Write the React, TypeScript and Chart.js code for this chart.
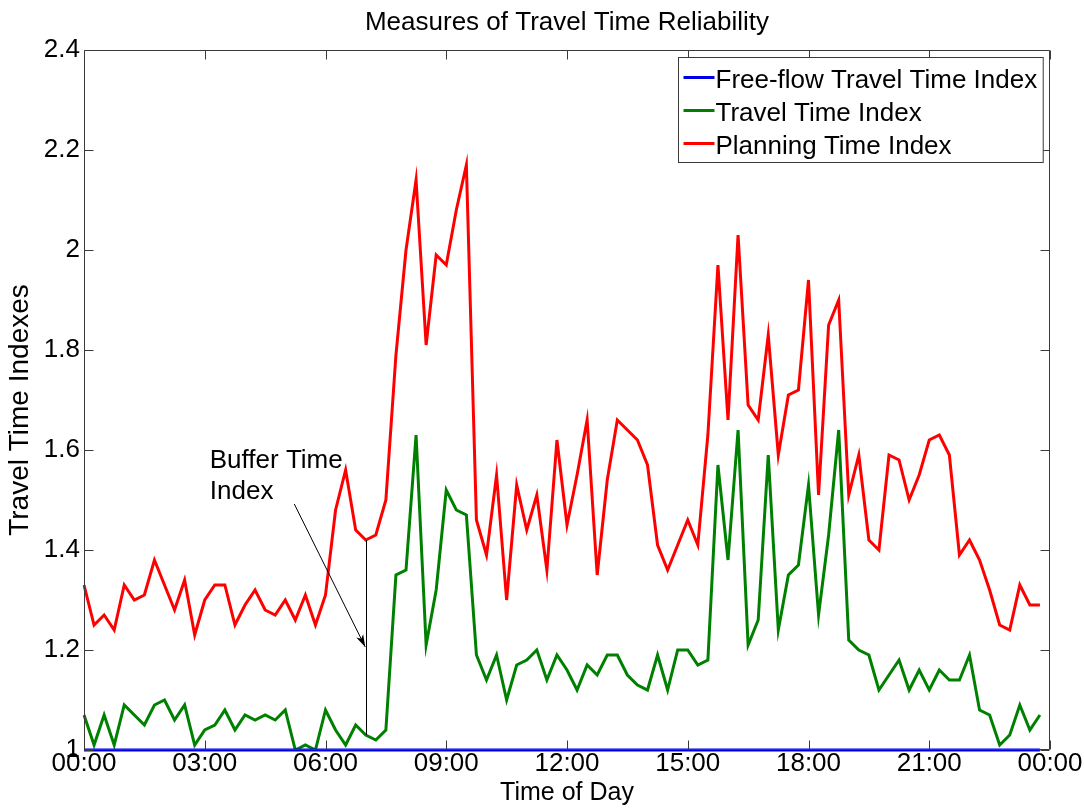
import React, { useEffect, useRef } from "react";
import { Chart, registerables } from "chart.js";

Chart.register(...registerables);

const FONT = "'Liberation Sans', Arial, Helvetica, sans-serif";

// 15-minute time-of-day categories, 00:00 .. 24:00
const timeLabels: string[] = (() => {
  const out: string[] = [];
  for (let m = 0; m <= 24 * 60; m += 15) {
    const h = Math.floor(m / 60);
    const mm = m % 60;
    out.push(`${String(h).padStart(2, "0")}:${String(mm).padStart(2, "0")}`);
  }
  return out;
})();

const xTickLabels = ["00:00", "03:00", "06:00", "09:00", "12:00", "15:00", "18:00", "21:00", "00:00"];
const yTickValues = [1, 1.2, 1.4, 1.6, 1.8, 2, 2.2, 2.4];

const freeFlowIndex = [
  1, 1, 1, 1, 1, 1, 1, 1, 1, 1, 1, 1, 1, 1, 1, 1, 1, 1, 1, 1, 1, 1, 1, 1,
  1, 1, 1, 1, 1, 1, 1, 1, 1, 1, 1, 1, 1, 1, 1, 1, 1, 1, 1, 1, 1, 1, 1, 1,
  1, 1, 1, 1, 1, 1, 1, 1, 1, 1, 1, 1, 1, 1, 1, 1, 1, 1, 1, 1, 1, 1, 1, 1,
  1, 1, 1, 1, 1, 1, 1, 1, 1, 1, 1, 1, 1, 1, 1, 1, 1, 1, 1, 1, 1, 1, 1, 1,
];

const travelTimeIndex = [
  1.07, 1.01, 1.07, 1.01, 1.09, 1.07, 1.05, 1.09, 1.10, 1.06, 1.09, 1.01,
  1.04, 1.05, 1.08, 1.04, 1.07, 1.06, 1.07, 1.06, 1.08, 1.00, 1.01, 1.00,
  1.08, 1.04, 1.01, 1.05, 1.03, 1.02, 1.04, 1.35, 1.36, 1.63, 1.21, 1.32,
  1.52, 1.48, 1.47, 1.19, 1.14, 1.19, 1.10, 1.17, 1.18, 1.20, 1.14, 1.19,
  1.16, 1.12, 1.17, 1.15, 1.19, 1.19, 1.15, 1.13, 1.12, 1.19, 1.12, 1.20,
  1.20, 1.17, 1.18, 1.57, 1.38, 1.64, 1.21, 1.26, 1.59, 1.24, 1.35, 1.37,
  1.53, 1.27, 1.43, 1.64, 1.22, 1.20, 1.19, 1.12, 1.15, 1.18, 1.12, 1.16,
  1.12, 1.16, 1.14, 1.14, 1.19, 1.08, 1.07, 1.01, 1.03, 1.09, 1.04, 1.07,
];

const planningTimeIndex = [
  1.33, 1.25, 1.27, 1.24, 1.33, 1.30, 1.31, 1.38, 1.33, 1.28, 1.34, 1.23,
  1.30, 1.33, 1.33, 1.25, 1.29, 1.32, 1.28, 1.27, 1.30, 1.26, 1.31, 1.25,
  1.31, 1.48, 1.56, 1.44, 1.42, 1.43, 1.50, 1.79, 2.00, 2.14, 1.81, 1.99,
  1.97, 2.08, 2.17, 1.46, 1.39, 1.55, 1.30, 1.53, 1.44, 1.51, 1.36, 1.62,
  1.45, 1.55, 1.66, 1.35, 1.54, 1.66, 1.64, 1.62, 1.57, 1.41, 1.36, 1.41,
  1.46, 1.41, 1.63, 1.97, 1.66, 2.03, 1.69, 1.66, 1.83, 1.59, 1.71, 1.72,
  1.94, 1.51, 1.85, 1.90, 1.51, 1.59, 1.42, 1.40, 1.59, 1.58, 1.50, 1.55,
  1.62, 1.63, 1.59, 1.39, 1.42, 1.38, 1.32, 1.25, 1.24, 1.33, 1.29, 1.29,
];

// Annotation anchors (in data units: category index, index value)
const bufferIndexAt = 28; // 07:00
const bufferTextAt = { x: 12.5, line1: 1.564, line2: 1.502 };
const bufferArrowFrom = { x: 20.9, y: 1.492 };
const bufferArrowTo = { x: 27.95, y: 1.206 };
const yTitleCenter = 1.68;

const matlabPlugin = {
  id: "matlabStyle",
  afterDatasetsDraw(chart: any) {
    const { ctx, chartArea: a, scales } = chart;
    const xs = scales.x;
    const ys = scales.y;
    ctx.save();

    // Axes box and inward ticks
    ctx.strokeStyle = "#3a3a3a";
    ctx.lineWidth = 1;
    const L = Math.round(a.left) + 0.5;
    const R = Math.round(a.right) - 0.5;
    const T = Math.round(a.top) + 0.5;
    const B = Math.round(a.bottom) - 0.5;
    ctx.beginPath();
    ctx.rect(L, T, R - L, B - T);
    ctx.stroke();
    const tl = 9;
    ctx.beginPath();
    for (let k = 0; k < xTickLabels.length; k++) {
      const px = Math.round(xs.getPixelForValue(k * 12)) + 0.5;
      ctx.moveTo(px, B);
      ctx.lineTo(px, B - tl);
      ctx.moveTo(px, T);
      ctx.lineTo(px, T + tl);
    }
    for (const v of yTickValues) {
      const py = Math.round(ys.getPixelForValue(v)) + 0.5;
      ctx.moveTo(L, py);
      ctx.lineTo(L + tl, py);
      ctx.moveTo(R, py);
      ctx.lineTo(R - tl, py);
    }
    ctx.stroke();

    // Title
    ctx.fillStyle = "#000";
    ctx.font = `26px ${FONT}`;
    ctx.textAlign = "center";
    ctx.textBaseline = "alphabetic";
    ctx.fillText("Measures of Travel Time Reliability", (a.left + a.right) / 2, a.top - 20);

    // Y axis title
    ctx.save();
    ctx.font = `28px ${FONT}`;
    ctx.textBaseline = "middle";
    ctx.translate(20, ys.getPixelForValue(yTitleCenter) + 0);
    ctx.rotate(-Math.PI / 2);
    ctx.fillText("Travel Time Indexes", 0, 0);
    ctx.restore();

    // Buffer time index vertical segment
    const vx = Math.round(xs.getPixelForValue(bufferIndexAt)) + 0.5;
    ctx.strokeStyle = "#000";
    ctx.lineWidth = 1;
    ctx.beginPath();
    ctx.moveTo(vx, ys.getPixelForValue(travelTimeIndex[bufferIndexAt]));
    ctx.lineTo(vx, ys.getPixelForValue(planningTimeIndex[bufferIndexAt]));
    ctx.stroke();

    // Arrow
    const x0 = xs.getPixelForValue(bufferArrowFrom.x);
    const y0 = ys.getPixelForValue(bufferArrowFrom.y);
    const x1 = xs.getPixelForValue(bufferArrowTo.x);
    const y1 = ys.getPixelForValue(bufferArrowTo.y);
    ctx.beginPath();
    ctx.moveTo(x0, y0);
    ctx.lineTo(x1, y1);
    ctx.stroke();
    const ang = Math.atan2(y1 - y0, x1 - x0);
    const hl = 13;
    const hw = 0.3;
    ctx.fillStyle = "#000";
    ctx.beginPath();
    ctx.moveTo(x1, y1);
    ctx.lineTo(x1 - hl * Math.cos(ang - hw), y1 - hl * Math.sin(ang - hw));
    ctx.lineTo(x1 - hl * 0.7 * Math.cos(ang), y1 - hl * 0.7 * Math.sin(ang));
    ctx.lineTo(x1 - hl * Math.cos(ang + hw), y1 - hl * Math.sin(ang + hw));
    ctx.closePath();
    ctx.fill();

    // Annotation text
    ctx.font = `26px ${FONT}`;
    ctx.textAlign = "left";
    ctx.textBaseline = "alphabetic";
    const tx = xs.getPixelForValue(bufferTextAt.x);
    ctx.fillText("Buffer Time", tx, ys.getPixelForValue(bufferTextAt.line1));
    ctx.fillText("Index", tx, ys.getPixelForValue(bufferTextAt.line2));

    // Legend
    const ds = chart.data.datasets;
    let maxW = 0;
    for (const d of ds) maxW = Math.max(maxW, ctx.measureText(d.label).width);
    const lineLen = 31;
    const boxW = 5 + lineLen + 1 + maxW + 6;
    const boxH = 105;
    const bx = Math.round(a.right - 7 - boxW) + 0.5;
    const by = Math.round(a.top + 7) + 0.5;
    ctx.fillStyle = "#fff";
    ctx.fillRect(bx, by, boxW, boxH);
    ctx.strokeStyle = "#3a3a3a";
    ctx.lineWidth = 1;
    ctx.strokeRect(bx, by, boxW, boxH);
    ds.forEach((d: any, i: number) => {
      const base = by + 30 + i * 33;
      ctx.strokeStyle = d.borderColor;
      ctx.lineWidth = 3;
      ctx.beginPath();
      ctx.moveTo(bx + 5, base - 10);
      ctx.lineTo(bx + 5 + lineLen, base - 10);
      ctx.stroke();
      ctx.fillStyle = "#000";
      ctx.fillText(d.label, bx + 5 + lineLen + 1, base);
    });

    ctx.restore();
  },
};

export default function App() {
  const canvasRef = useRef<HTMLCanvasElement | null>(null);

  useEffect(() => {
    if (!canvasRef.current) return;
    Chart.defaults.font.family = FONT;
    const chart = new Chart(canvasRef.current, {
      type: "line",
      data: {
        labels: timeLabels,
        datasets: [
          {
            label: "Free-flow Travel Time Index",
            data: freeFlowIndex,
            borderColor: "#0000e6",
            borderWidth: 3,
            pointRadius: 0,
            tension: 0,
            clip: false as any,
          },
          {
            label: "Travel Time Index",
            data: travelTimeIndex,
            borderColor: "#008000",
            borderWidth: 3,
            pointRadius: 0,
            tension: 0,
          },
          {
            label: "Planning Time Index",
            data: planningTimeIndex,
            borderColor: "#ff0000",
            borderWidth: 3,
            pointRadius: 0,
            tension: 0,
          },
        ],
      },
      options: {
        animation: false,
        responsive: true,
        maintainAspectRatio: false,
        layout: { padding: { top: 50, right: 34, left: 0, bottom: 0 } },
        plugins: {
          legend: { display: false },
          title: { display: false },
          tooltip: { enabled: false },
        },
        scales: {
          x: {
            type: "category",
            afterFit(s: any) {
              s.height = 59;
            },
            grid: { display: false, drawTicks: false },
            border: { display: false },
            ticks: {
              autoSkip: false,
              maxRotation: 0,
              minRotation: 0,
              padding: 0,
              color: "#000",
              font: { size: 26, lineHeight: 1.1 },
              callback: (_v: any, i: number) => (i % 12 === 0 ? xTickLabels[i / 12] : null),
            },
            title: {
              display: true,
              text: "Time of Day",
              color: "#000",
              font: { size: 25, lineHeight: 1.2 },
              padding: { top: 0, bottom: 1 },
            },
          },
          y: {
            min: 1,
            max: 2.4,
            afterFit(s: any) {
              s.width = 84;
            },
            grid: { display: false, drawTicks: false },
            border: { display: false },
            ticks: {
              stepSize: 0.2,
              padding: 4,
              color: "#000",
              font: { size: 26 },
              callback: (v: any) => String(Math.round(Number(v) * 10) / 10),
            },
            title: { display: false },
          },
        },
      },
      plugins: [matlabPlugin],
    });
    return () => chart.destroy();
  }, []);

  return (
    <div style={{ position: "absolute", left: 0, top: 0, width: 1084, height: 809 }}>
      <canvas ref={canvasRef} />
    </div>
  );
}
